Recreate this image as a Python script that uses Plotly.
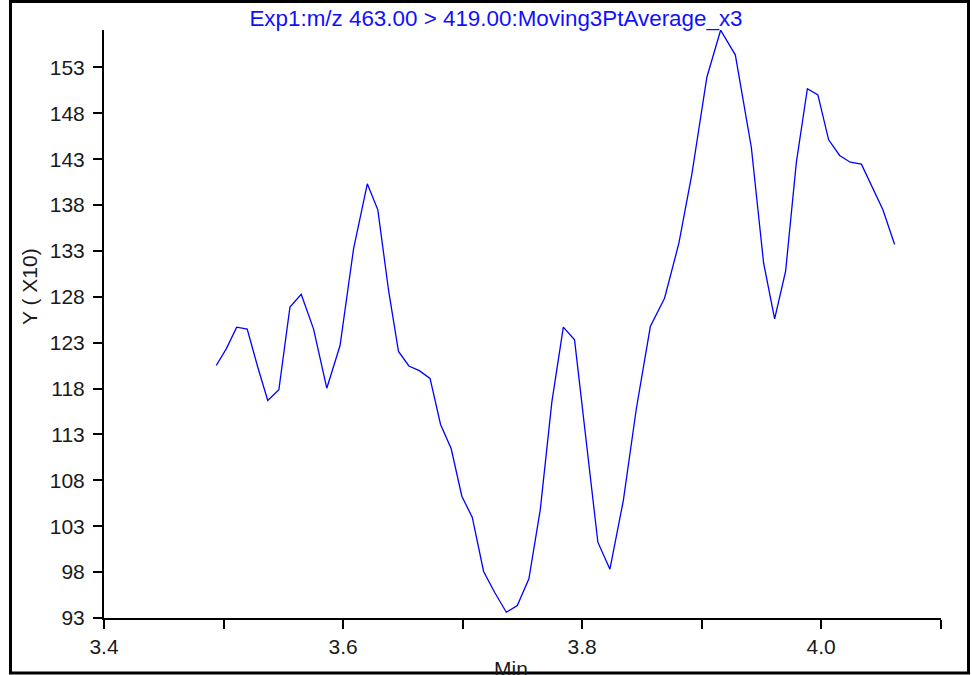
import plotly.graph_objects as go

# Data (time in minutes, intensity in units of x10)
time_min = [3.4939, 3.5023, 3.5110, 3.5198, 3.5285, 3.5370, 3.5463, 3.5556, 3.5650, 3.5753,
            3.5864, 3.5975, 3.6088, 3.6203, 3.6291, 3.6381, 3.6464, 3.6551, 3.6638, 3.6728,
            3.6816, 3.6905, 3.6994, 3.7081, 3.7176, 3.7268, 3.7366, 3.7458, 3.7555, 3.7650,
            3.7747, 3.7843, 3.7937, 3.8035, 3.8132, 3.8233, 3.8345, 3.8454, 3.8571, 3.8690,
            3.8810, 3.8919, 3.9044, 3.9159, 3.9282, 3.9416, 3.9519, 3.9611, 3.9703, 3.9793,
            3.9885, 3.9973, 4.0063, 4.0155, 4.0244, 4.0337, 4.0427, 4.0517, 4.0615]
intensity = [120.51, 122.33, 124.69, 124.49, 120.41, 116.70, 117.87, 126.89, 128.27, 124.51,
             118.04, 122.69, 133.23, 140.31, 137.48, 128.69, 122.04, 120.46, 119.95, 119.10,
             114.09, 111.44, 106.27, 103.98, 98.07, 95.81, 93.63, 94.36, 97.27, 104.79,
             116.52, 124.69, 123.31, 112.34, 101.26, 98.32, 105.80, 115.80, 124.76, 127.85,
             133.84, 141.40, 151.93, 157.05, 154.37, 144.30, 131.66, 125.60, 130.79, 142.67,
             150.67, 150.01, 145.11, 143.40, 142.67, 142.45, 139.91, 137.48, 133.70]

x_major_ticks = [3.4, 3.6, 3.8, 4.0]
x_major_labels = ["3.4", "3.6", "3.8", "4.0"]
x_minor_ticks = [3.5, 3.7, 3.9, 4.1]
y_ticks = [93, 98, 103, 108, 113, 118, 123, 128, 133, 138, 143, 148, 153]

title_text = "Exp1:m/z 463.00 > 419.00:Moving3PtAverage_x3"
y_label = "Y ( X10)"
x_label = "Min"

W, H = 972, 675
L, R, T, B = 104, 31, 30, 57
PW, PH = W - L - R, H - T - B

def px_x(px):
    return (px - L) / PW

def px_y(py):
    return (H - B - py) / PH

FONT = "Liberation Sans, Arial, sans-serif"
TXT = "#1a1a1a"

fig = go.Figure()
fig.add_trace(go.Scatter(x=time_min, y=intensity, mode="lines",
                         line=dict(color="#0000ff", width=1.3),
                         hoverinfo="skip", showlegend=False))

fig.update_layout(
    width=W, height=H,
    margin=dict(l=L, r=R, t=T, b=B, pad=0),
    paper_bgcolor="white", plot_bgcolor="white",
    font=dict(family=FONT, size=21, color=TXT),
    title=dict(text=title_text, font=dict(family=FONT, size=22.4, color="#1010ff"),
               x=496 / W, xanchor="center", xref="container",
               y=1 - 18 / H, yanchor="middle", yref="container"),
    showlegend=False,
)

fig.update_xaxes(
    range=[3.4, 4.1003], showgrid=False, zeroline=False,
    showline=True, linecolor="black", linewidth=2,
    tickmode="array", tickvals=x_major_ticks, ticktext=x_major_labels,
    ticks="outside", ticklen=9, tickwidth=2, tickcolor="black",
    tickfont=dict(family=FONT, size=21, color=TXT),
    minor=dict(tickmode="array", tickvals=x_minor_ticks, ticks="outside",
               ticklen=9, tickwidth=2, tickcolor="black", showgrid=False),
)
fig.update_yaxes(
    range=[93, 93 + PH / 9.177], showgrid=False, zeroline=False,
    showline=True, linecolor="black", linewidth=2,
    tickmode="array", tickvals=y_ticks, ticktext=[str(v) for v in y_ticks],
    ticks="outside", ticklen=9, tickwidth=2, tickcolor="black",
    ticklabelstandoff=4,
    tickfont=dict(family=FONT, size=21, color=TXT),
)

fig.add_annotation(text=y_label, textangle=-90, xref="paper", yref="paper",
                   x=px_x(29), y=px_y(287), xanchor="center", yanchor="middle",
                   showarrow=False, font=dict(family=FONT, size=21, color=TXT))
fig.add_annotation(text=x_label, xref="paper", yref="paper",
                   x=px_x(511), y=px_y(668), xanchor="center", yanchor="middle",
                   showarrow=False, font=dict(family=FONT, size=21, color=TXT))

fig.add_shape(type="rect", xref="paper", yref="paper",
              x0=px_x(10.5), x1=px_x(968.5), y0=px_y(673), y1=px_y(1.5),
              line=dict(color="black", width=3), fillcolor="rgba(0,0,0,0)", layer="above")

fig.write_html("out.html", config={"displayModeBar": False},
               post_script="document.body.style.margin='0';document.body.style.overflow='hidden';")
